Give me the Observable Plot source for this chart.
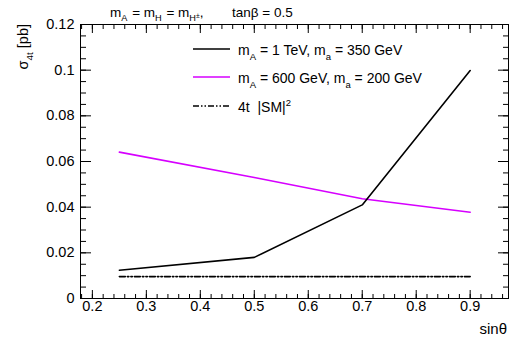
<!DOCTYPE html>
<html><head><meta charset="utf-8">
<script src="https://cdn.jsdelivr.net/npm/d3@7"></script>
<script src="https://cdn.jsdelivr.net/npm/@observablehq/plot@0.6"></script>
<style>body{margin:0;background:#fff}</style>
</head><body><div id="chart"></div>
<script>
// ---- data ----
const sinTheta = [0.25, 0.5, 0.7, 0.9];
const sigmaHeavy = [0.0124, 0.0180, 0.0410, 0.0998]; // mA = 1 TeV, ma = 350 GeV
const sigmaLight = [0.0641, 0.0530, 0.0437, 0.0378]; // mA = 600 GeV, ma = 200 GeV
const smSinTheta = [0.25, 0.9];
const sigmaSM = [0.0096, 0.0096];                    // 4t |SM|^2
const xTicks = [0.2, 0.3, 0.4, 0.5, 0.6, 0.7, 0.8, 0.9];
const yTicks = [0, 0.02, 0.04, 0.06, 0.08, 0.1, 0.12];
const xDomain = [0.178, 0.971];
const yDomain = [0, 0.12];

const xMinor = d3.range(9, 49).map(i => i * 0.02).filter(v => v >= xDomain[0] && v <= xDomain[1]);
const yMinor = d3.range(0, 25).map(i => i * 0.005);

const heavy = sinTheta.map((x, i) => ({x, y: sigmaHeavy[i]}));
const light = sinTheta.map((x, i) => ({x, y: sigmaLight[i]}));
const sm = smSinTheta.map((x, i) => ({x, y: sigmaSM[i]}));

const FONT = "'Liberation Sans', Arial, Helvetica, sans-serif";
const MAGENTA = "#d600ff";
const SMDASH = "6,2,1.5,2,1.5,2";

const chart = Plot.plot({
  width: 530, height: 360,
  marginLeft: 80, marginRight: 22, marginTop: 24, marginBottom: 62,
  style: {fontFamily: FONT, fontSize: "14.5px", color: "black", background: "white"},
  x: {domain: xDomain},
  y: {domain: yDomain},
  marks: [
    Plot.line(sm, {x: "x", y: "y", stroke: "black", strokeWidth: 1.6, strokeDasharray: SMDASH}),
    Plot.line(light, {x: "x", y: "y", stroke: MAGENTA, strokeWidth: 1.6}),
    Plot.line(heavy, {x: "x", y: "y", stroke: "black", strokeWidth: 1.6}),
    Plot.axisX({anchor: "bottom", ticks: xTicks, tickSize: -8, fill: "none", label: null}),
    Plot.axisX({anchor: "bottom", ticks: xMinor, tickSize: -4, fill: "none", label: null}),
    Plot.axisX({anchor: "top", ticks: xTicks, tickSize: -8, fill: "none", label: null}),
    Plot.axisX({anchor: "top", ticks: xMinor, tickSize: -4, fill: "none", label: null}),
    Plot.axisX({anchor: "bottom", ticks: xTicks, tickSize: 0, tickPadding: 2, tickFormat: d => String(d), label: null}),
    Plot.axisY({anchor: "left", ticks: yTicks, tickSize: -11, fill: "none", label: null}),
    Plot.axisY({anchor: "left", ticks: yMinor, tickSize: -6, fill: "none", label: null}),
    Plot.axisY({anchor: "right", ticks: yTicks, tickSize: -11, fill: "none", label: null}),
    Plot.axisY({anchor: "right", ticks: yMinor, tickSize: -6, fill: "none", label: null}),
    Plot.axisY({anchor: "left", ticks: yTicks, tickSize: 0, tickPadding: 6, tickFormat: d => String(d), label: null}),
    Plot.frame({stroke: "black", strokeWidth: 1})
  ]
});
document.getElementById("chart").appendChild(chart);

// ---- rich text annotations ----
const svg = d3.select(chart);
function rich(g, x, y, parts, size, opts = {}) {
  const t = g.append("text").attr("x", x).attr("y", y)
    .attr("font-family", FONT).attr("font-size", size).attr("fill", "black")
    .attr("text-anchor", opts.anchor || "start");
  if (opts.transform) t.attr("transform", opts.transform);
  let shift = 0;
  for (const p of parts) {
    const s = t.append("tspan").text(p.t);
    const target = p.sub ? size * 0.33 : p.sup ? -size * 0.4 : p.subsup ? size * 0.05 : 0;
    s.attr("dy", target - shift);
    if (p.dx) s.attr("dx", p.dx);
    shift = target;
    if (p.sub || p.sup || p.subsup) s.attr("font-size", size * (p.subsup ? 0.5 : 0.68));
  }
  return t;
}
const g = svg.append("g").attr("text-anchor", "start");

// top annotation
rich(g, 110, 17, [
  {t: "m"}, {t: "A", sub: true}, {t: " = m", dx: 1}, {t: "H", sub: true}, {t: " = m", dx: 1}, {t: "H", sub: true}, {t: "±", subsup: true},
  {t: ","}
], 13.5);
rich(g, 232, 17, [{t: "tanβ = 0.5"}], 13.5);

// y title
rich(g, 0, 0, [{t: "σ"}, {t: "4t", sub: true}, {t: " [pb]"}], 14.5,
  {anchor: "end", transform: "translate(28,24) rotate(-90)"});

// x title
rich(g, 507, 334, [{t: "sinθ"}], 15, {anchor: "end"});

// legend
const leg = [
  {y: 49, stroke: "black", dash: null, parts: [{t: "m"}, {t: "A", sub: true}, {t: " = 1 TeV, m"}, {t: "a", sub: true}, {t: " = 350 GeV"}]},
  {y: 77, stroke: MAGENTA, dash: null, parts: [{t: "m"}, {t: "A", sub: true}, {t: " = 600 GeV, m"}, {t: "a", sub: true}, {t: " = 200 GeV"}]},
  {y: 106, stroke: "black", dash: SMDASH, parts: [{t: "4t  |SM|"}, {t: "2", sup: true}]}
];
for (const L of leg) {
  const ln = g.append("line").attr("x1", 193).attr("x2", 230).attr("y1", L.y).attr("y2", L.y)
    .attr("stroke", L.stroke).attr("stroke-width", 1.6);
  if (L.dash) ln.attr("stroke-dasharray", L.dash);
  rich(g, 238, L.y + 6, L.parts, 14);
}
</script>
</body></html>
